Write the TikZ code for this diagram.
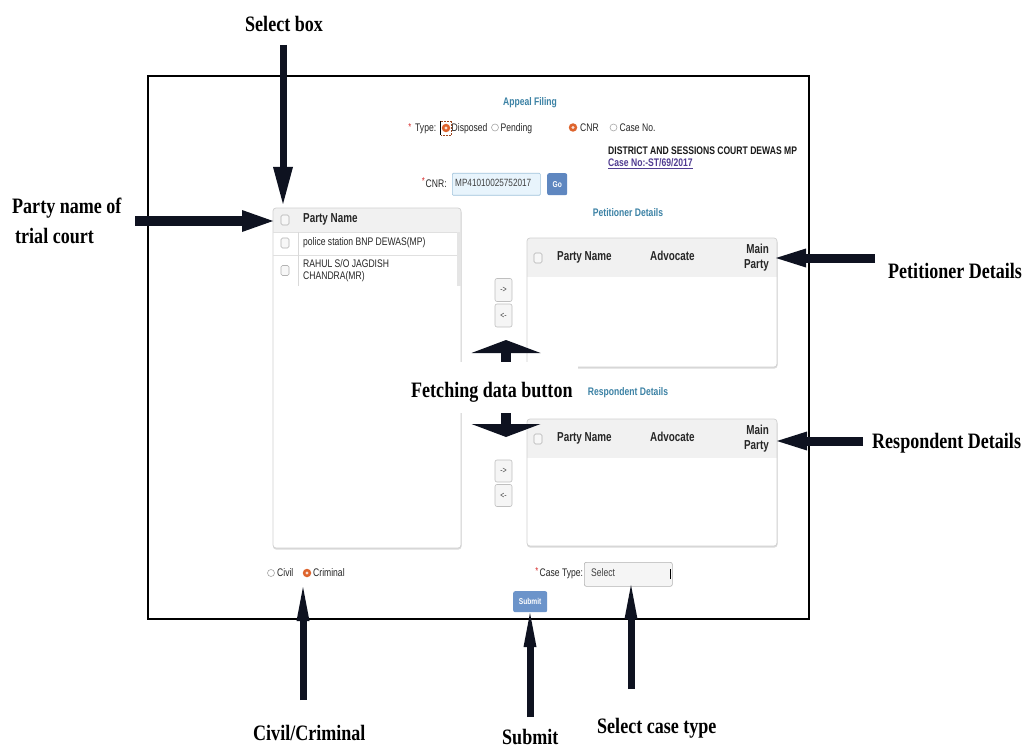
\documentclass[tikz,border=0pt]{standalone}
\usepackage{fontspec}
\usetikzlibrary{arrows.meta}
\newfontfamily\uifont[FakeStretch=0.78]{Liberation Sans}
\newfontfamily\uihfont[FakeStretch=0.76]{Liberation Sans}
\newfontfamily\lblfont[FakeStretch=0.82]{Liberation Serif}
\definecolor{arrowc}{RGB}{14,18,32}
\definecolor{headc}{RGB}{60,130,165}
\definecolor{radioc}{RGB}{222,100,45}
\definecolor{starc}{RGB}{215,45,45}
\definecolor{linkc}{RGB}{80,60,145}
\definecolor{gobtn}{RGB}{95,135,192}
\definecolor{subbtn}{RGB}{108,148,202}
\definecolor{panelb}{RGB}{208,208,208}
\definecolor{hdrfill}{RGB}{241,241,241}
\definecolor{cnrfill}{RGB}{232,244,252}
\definecolor{cnrline}{RGB}{160,195,220}
\tikzset{
  ui/.style={font=\uifont\fontsize{11}{12.5}\selectfont, inner sep=0pt, text=black!85},
  uib/.style={font=\uihfont\bfseries\fontsize{13}{14}\selectfont, inner sep=0pt, text=black!85},
  uism/.style={font=\uifont\bfseries\fontsize{11}{12}\selectfont, inner sep=0pt, text=black!90},
  sect/.style={font=\uifont\bfseries\fontsize{11}{12}\selectfont, inner sep=0pt, text=headc},
  star/.style={font=\uifont\fontsize{10}{10}\selectfont, inner sep=0pt, text=starc},
  lbl/.style={font=\lblfont\bfseries\fontsize{22}{26}\selectfont, inner sep=0pt, anchor=base west, text=black},
  chk/.style={draw=black!30, fill=black!3, rounded corners=1.5pt, minimum width=8pt,
    minimum height=10pt, inner sep=0pt, line width=0.6pt},
  radoff/.style={circle, draw=black!35, fill=white, line width=0.6pt, minimum size=7pt, inner sep=0pt},
  radon/.style={circle, fill=radioc, minimum size=8.5pt, inner sep=0pt,
    path picture={\fill[white!80!radioc] (path picture bounding box.center) circle (1.6pt);}},
  movebtn/.style={draw=black!25, fill=black!4, rounded corners=2pt, minimum width=17pt,
    inner sep=0pt, line width=0.6pt, font=\uifont\fontsize{9}{10}\selectfont, text=black!75},
  bluebtn/.style={rounded corners=2pt, inner sep=0pt, text=white,
    font=\uifont\bfseries\fontsize{8.5}{9}\selectfont},
  arr/.style={draw=arrowc, line width=#1},
  tipsel/.style={-{Triangle[length=37pt,width=20pt,line width=0pt]}},
  tipside/.style={-{Triangle[length=31pt,width=22pt,line width=0pt]}},
  tipright/.style={-{Triangle[length=30pt,width=19pt,line width=0pt]}},
  tipup/.style={-{Triangle[length=34pt,width=13pt,line width=0pt]}},
  tipwide/.style={-{Triangle[length=13pt,width=69pt,line width=0pt]}},
}
\begin{document}
\begin{tikzpicture}[x=1pt,y=-1pt]
\useasboundingbox (0,0) rectangle (1026,749);
\fill[white] (0,0) rectangle (1026,749);

% screen frame
\draw[line width=2pt] (148,76) rectangle (809,619);

% form heading and type row
\node[sect] (appeal) at (530,103) {Appeal Filing};
\node[star] (typestar) at (410,127) {*};
\node[ui, anchor=mid west] (typelbl) at (415,129) {Type:};
\draw[densely dotted, draw=radioc!70!black, line width=0.5pt] (440.5,121) rectangle (451,135.5);
\draw[line width=0.8pt] (440.5,121) -- (440.5,135.5);
\node[radon] (rdisp) at (446,128) {};
\node[ui, anchor=mid west] (tdisp) at (451.5,129) {Disposed};
\node[radoff] (rpend) at (495,127.5) {};
\node[ui, anchor=mid west] (tpend) at (500.5,129) {Pending};
\node[radon] (rcnr) at (573,127.5) {};
\node[ui, anchor=mid west] (tcnr) at (580,129) {CNR};
\node[radoff] (rcase) at (613.5,127.5) {};
\node[ui, anchor=mid west] (tcase) at (619.5,129) {Case No.};
\node[uism, anchor=mid west] (court) at (608,152) {DISTRICT AND SESSIONS COURT DEWAS MP};
\node[uism, text=linkc, anchor=mid west] (caseno) at (608,164.5) {\underline{Case No:-ST/69/2017}};

% CNR entry
\node[star] (cnrstar) at (423.5,181) {*};
\node[ui, anchor=mid west] (cnrlbl) at (425.5,185) {CNR:};
\node[draw=cnrline, fill=cnrfill, rounded corners=1pt, minimum width=88pt, minimum height=22pt,
  inner sep=0pt, anchor=north west, line width=0.6pt] (cnrfield) at (452,173) {};
\node[ui, font=\uifont\fontsize{10.5}{11}\selectfont, text=black!75, anchor=mid west] (cnrtext) at (455,184.5) {MP41010025752017};
\node[bluebtn, fill=gobtn, minimum width=20pt, minimum height=22pt, anchor=north west] (go) at (547,173) {Go};

% trial court party list
\fill[rounded corners=3pt, black!14] (273,209.5) rectangle (461.5,549.5);
\begin{scope}
  \clip[rounded corners=3pt] (273,208) rectangle (461,548);
  \fill[white] (273,208) rectangle (461,548);
  \fill[hdrfill] (273,208) rectangle (461,232);
\end{scope}
\draw[rounded corners=3pt, panelb, line width=0.7pt] (273,208) rectangle (461,548);
\draw[black!12, line width=0.6pt] (273,232) -- (457,232);
\draw[black!12, line width=0.6pt] (273,255) -- (457,255);
\draw[black!15, line width=0.6pt] (298,232) -- (298,286);
\fill[black!10] (456.5,232) rectangle (460.5,286);
\node[chk] (lchk0) at (285,220) {};
\node[uib, anchor=mid west] (lhead) at (303,220) {Party Name};
\node[chk] (lchk1) at (285,243) {};
\node[ui, anchor=mid west] (lrow1) at (303,243) {police station BNP DEWAS(MP)};
\node[chk] (lchk2) at (285,270.5) {};
\node[ui, anchor=mid west] (lrow2a) at (303,265) {RAHUL S/O JAGDISH};
\node[ui, anchor=mid west] (lrow2b) at (303,277) {CHANDRA(MR)};

% petitioner block
\node[sect] (pethead) at (628,213) {Petitioner Details};
\fill[rounded corners=3pt, black!14] (527,239.5) rectangle (777.5,368.5);
\begin{scope}
  \clip[rounded corners=3pt] (527,238) rectangle (777,367);
  \fill[white] (527,238) rectangle (777,367);
  \fill[hdrfill] (527,238) rectangle (777,277);
\end{scope}
\draw[rounded corners=3pt, panelb, line width=0.7pt] (527,238) rectangle (777,367);
\node[chk] (pchk) at (538,258) {};
\node[uib, anchor=mid west] (pname) at (557,258) {Party Name};
\node[uib, anchor=mid west] (padv) at (650,258) {Advocate};
\node[uib, anchor=mid east] (pmain) at (769,251) {Main};
\node[uib, anchor=mid east] (pparty) at (769,266) {Party};
\node[movebtn, minimum height=23pt] (pfwd) at (503.5,290) {->};
\node[movebtn, minimum height=23pt] (pback) at (503.5,315.5) {<-};

% respondent block
\node[sect] (reshead) at (628,393) {Respondent Details};
\fill[rounded corners=3pt, black!14] (527,420.5) rectangle (777.5,547.5);
\begin{scope}
  \clip[rounded corners=3pt] (527,419) rectangle (777,546);
  \fill[white] (527,419) rectangle (777,546);
  \fill[hdrfill] (527,419) rectangle (777,458);
\end{scope}
\draw[rounded corners=3pt, panelb, line width=0.7pt] (527,419) rectangle (777,546);
\node[chk] (rchk) at (538,439) {};
\node[uib, anchor=mid west] (rname) at (557,439) {Party Name};
\node[uib, anchor=mid west] (radv) at (650,439) {Advocate};
\node[uib, anchor=mid east] (rmain) at (769,432) {Main};
\node[uib, anchor=mid east] (rparty) at (769,447) {Party};
\node[movebtn, minimum height=22pt] (rfwd) at (503.5,471) {->};
\node[movebtn, minimum height=22pt] (rback) at (503.5,495.5) {<-};

% bottom controls
\node[radoff] (rcivil) at (271,573) {};
\node[ui, anchor=mid west] (tcivil) at (277,574) {Civil};
\node[radon] (rcrim) at (307,573) {};
\node[ui, anchor=mid west] (tcrim) at (313,574) {Criminal};
\node[star] (ctstar) at (537,571) {*};
\node[ui, anchor=mid west] (ctlbl) at (539.5,574) {Case Type:};
\node[draw=black!30, fill=black!4, rounded corners=2pt, minimum width=88pt, minimum height=24pt,
  inner sep=0pt, anchor=north west, line width=0.6pt] (ctsel) at (584,562) {};
\node[ui, anchor=mid west, text=black!75] (ctseltext) at (591,574) {Select};
\draw[line width=1.2pt] (670.5,569) -- (670.5,579);
\node[bluebtn, fill=subbtn, minimum width=34pt, minimum height=21pt, anchor=north west] (submitbtn) at (513,591) {Submit};

% callout arrows
\coordinate (selT) at (283,45);   \coordinate (selH) at (283,204);
\coordinate (ptyT) at (135,221);  \coordinate (ptyH) at (273,221);
\coordinate (petT) at (875,258);  \coordinate (petH) at (776,258);
\coordinate (resT) at (863,441);  \coordinate (resH) at (777,441);
\coordinate (civT) at (303,700);  \coordinate (civH) at (303,587);
\coordinate (subT) at (530,717);  \coordinate (subH) at (530,613);
\coordinate (typT) at (631,689);  \coordinate (typH) at (631,585);
\coordinate (fupT) at (506,380);  \coordinate (fupH) at (506,340);
\coordinate (fdnT) at (506,400);  \coordinate (fdnH) at (506,437);
\draw[arr=7pt, tipsel] (selT) -- (selH);
\draw[arr=10pt, tipside] (ptyT) -- (ptyH);
\draw[arr=9pt, tipright] (petT) -- (petH);
\draw[arr=9pt, tipright] (resT) -- (resH);
\draw[arr=7pt, tipup] (civT) -- (civH);
\draw[arr=7pt, tipup] (subT) -- (subH);
\draw[arr=7pt, tipup] (typT) -- (typH);
\draw[arr=10pt, tipwide] (fupT) -- (fupH);
\draw[arr=10pt, tipwide] (fdnT) -- (fdnH);

% callout labels
\fill[white] (458,362) rectangle (578,413);
\node[lbl] (lfetch) at (411,397) {Fetching data button};
\node[lbl] (lsel) at (245,32) {Select box};
\node[lbl] (lparty1) at (12,214) {Party name of};
\node[lbl] (lparty2) at (15,243) {trial court};
\node[lbl] (lpet) at (888,278) {Petitioner Details};
\node[lbl] (lres) at (872,448) {Respondent Details};
\node[lbl] (lciv) at (253,740) {Civil/Criminal};
\node[lbl] (lsub) at (502,744) {Submit};
\node[lbl] (ltyp) at (597,733) {Select case type};
\end{tikzpicture}
\end{document}
